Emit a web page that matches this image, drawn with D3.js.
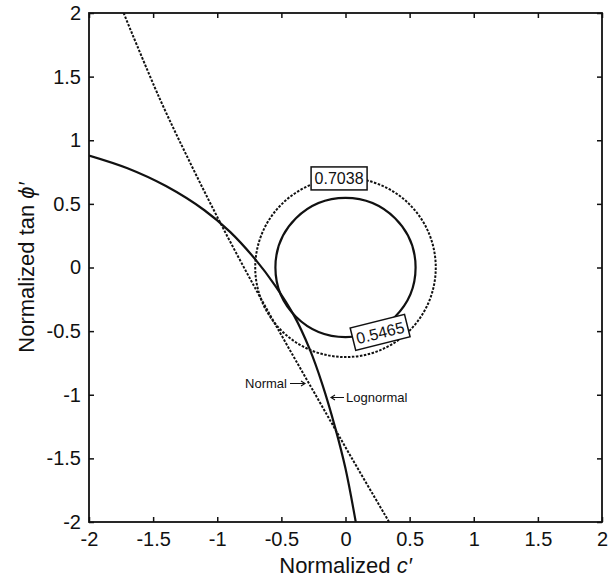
<!DOCTYPE html>
<html>
<head>
<meta charset="utf-8">
<script src="https://d3js.org/d3.v7.min.js"></script>
<style>
  body { margin: 0; background: #fff; }
  text { font-family: "Liberation Sans", Arial, sans-serif; fill: #111; }
</style>
</head>
<body>
<svg width="615" height="580"></svg>
<script>
  // axis ticks
  var xTicks = [-2, -1.5, -1, -0.5, 0, 0.5, 1, 1.5, 2];
  var yTicks = [-2, -1.5, -1, -0.5, 0, 0.5, 1, 1.5, 2];

  // limit state curves (normalized c', normalized tan phi')
  var normalX = [-1.73, -1.45, -1.20, -0.96, -0.70, -0.45, -0.20, 0.05, 0.34];
  var normalY = [2.00, 1.33, 0.80, 0.32, -0.17, -0.62, -1.06, -1.50, -2.00];
  var lognX = [-2.00, -1.70, -1.40, -1.10, -0.90, -0.70, -0.55, -0.40, -0.28, -0.18, -0.08, 0.00, 0.08];
  var lognY = [0.88, 0.78, 0.64, 0.45, 0.28, 0.06, -0.14, -0.38, -0.64, -0.92, -1.26, -1.58, -2.00];

  // reliability circles (radius) and where their labels sit
  var radii = [0.7038, 0.5465];
  var circleDashed = [true, false];
  var labelX = [-0.05, 0.27];
  var labelY = [0.70, -0.51];
  var labelAngle = [0, -14];

  var svg = d3.select("svg");
  var mLeft = 89, mRight = 602, mTop = 13, mBottom = 522;

  var x = d3.scaleLinear().domain([-2, 2]).range([mLeft, mRight]);
  var y = d3.scaleLinear().domain([-2, 2]).range([mBottom, mTop]);

  var fmt = function(d) { return String(d); };
  var tickLen = 5;

  // axes (MATLAB-like box with inward ticks)
  var gx = svg.append("g").attr("transform", "translate(0," + mBottom + ")")
    .call(d3.axisBottom(x).tickValues(xTicks).tickFormat(fmt).tickSizeInner(-tickLen).tickSizeOuter(0).tickPadding(10));
  var gy = svg.append("g").attr("transform", "translate(" + mLeft + ",0)")
    .call(d3.axisLeft(y).tickValues(yTicks).tickFormat(fmt).tickSizeInner(-tickLen).tickSizeOuter(0).tickPadding(8));
  var gt = svg.append("g").attr("transform", "translate(0," + mTop + ")")
    .call(d3.axisTop(x).tickValues(xTicks).tickFormat("").tickSizeInner(-tickLen).tickSizeOuter(0));
  var gr = svg.append("g").attr("transform", "translate(" + mRight + ",0)")
    .call(d3.axisRight(y).tickValues(yTicks).tickFormat("").tickSizeInner(-tickLen).tickSizeOuter(0));

  [gx, gy, gt, gr].forEach(function(g) {
    g.select(".domain").remove();
    g.selectAll(".tick line").attr("stroke", "#111").attr("stroke-width", 1.5);
    g.selectAll(".tick text").attr("font-size", 20).style("font-family", "Liberation Sans, Arial, sans-serif").attr("fill", "#111");
  });

  svg.append("rect")
    .attr("x", mLeft).attr("y", mTop)
    .attr("width", mRight - mLeft).attr("height", mBottom - mTop)
    .attr("fill", "none").attr("stroke", "#111").attr("stroke-width", 1.8);

  // circles
  radii.forEach(function(r, i) {
    svg.append("ellipse")
      .attr("cx", x(0)).attr("cy", y(0))
      .attr("rx", x(r) - x(0)).attr("ry", y(0) - y(r))
      .attr("fill", "none").attr("stroke", "#111")
      .attr("stroke-width", circleDashed[i] ? 2 : 2.2)
      .attr("stroke-dasharray", circleDashed[i] ? "2.5,1.5" : null);
  });

  var line = d3.line()
    .x(function(d) { return x(d[0]); })
    .y(function(d) { return y(d[1]); })
    .curve(d3.curveCatmullRom);

  svg.append("clipPath").attr("id", "plotclip")
    .append("rect").attr("x", mLeft).attr("y", mTop).attr("width", mRight - mLeft).attr("height", mBottom - mTop);

  svg.append("path")
    .datum(normalX.map(function(v, i) { return [v, normalY[i]]; }))
    .attr("d", line)
    .attr("clip-path", "url(#plotclip)")
    .attr("fill", "none").attr("stroke", "#111").attr("stroke-width", 2)
    .attr("stroke-dasharray", "2.5,1.5");

  svg.append("path")
    .datum(lognX.map(function(v, i) { return [v, lognY[i]]; }))
    .attr("d", line)
    .attr("clip-path", "url(#plotclip)")
    .attr("fill", "none").attr("stroke", "#111").attr("stroke-width", 2.2);

  // contour-style labels on the circles
  radii.forEach(function(r, i) {
    var g = svg.append("g")
      .attr("transform", "translate(" + x(labelX[i]) + "," + y(labelY[i]) + ") rotate(" + labelAngle[i] + ")");
    g.append("rect")
      .attr("x", -28).attr("y", -11.5).attr("width", 56).attr("height", 23)
      .attr("fill", "#fff").attr("stroke", "#111").attr("stroke-width", 1.5);
    g.append("text")
      .attr("text-anchor", "middle").attr("y", 6)
      .attr("font-size", 16)
      .text(r.toFixed(4));
  });

  // curve annotations with small arrows
  svg.append("text")
    .attr("x", 287).attr("y", 388)
    .attr("text-anchor", "end").attr("font-size", 13)
    .text("Normal");
  svg.append("text")
    .attr("x", 346).attr("y", 402)
    .attr("font-size", 13)
    .text("Lognormal");
  svg.append("path")
    .attr("d", "M290,383.5H305M301,381L305,383.5L301,386")
    .attr("fill", "none").attr("stroke", "#111").attr("stroke-width", 1.1);
  svg.append("path")
    .attr("d", "M344,397.5H331M335,395L331,397.5L335,400")
    .attr("fill", "none").attr("stroke", "#111").attr("stroke-width", 1.1);

  // axis titles
  var xt = svg.append("text")
    .attr("x", x(0)).attr("y", 573)
    .attr("text-anchor", "middle").attr("font-size", 22);
  xt.append("tspan").text("Normalized ");
  xt.append("tspan").attr("font-style", "italic").text("c\u2032");

  var yt = svg.append("text")
    .attr("transform", "translate(34," + y(0) + ") rotate(-90)")
    .attr("text-anchor", "middle").attr("font-size", 22);
  yt.append("tspan").text("Normalized tan ");
  yt.append("tspan").attr("font-style", "italic").text("\u03d5\u2032");
</script>
</body>
</html>
